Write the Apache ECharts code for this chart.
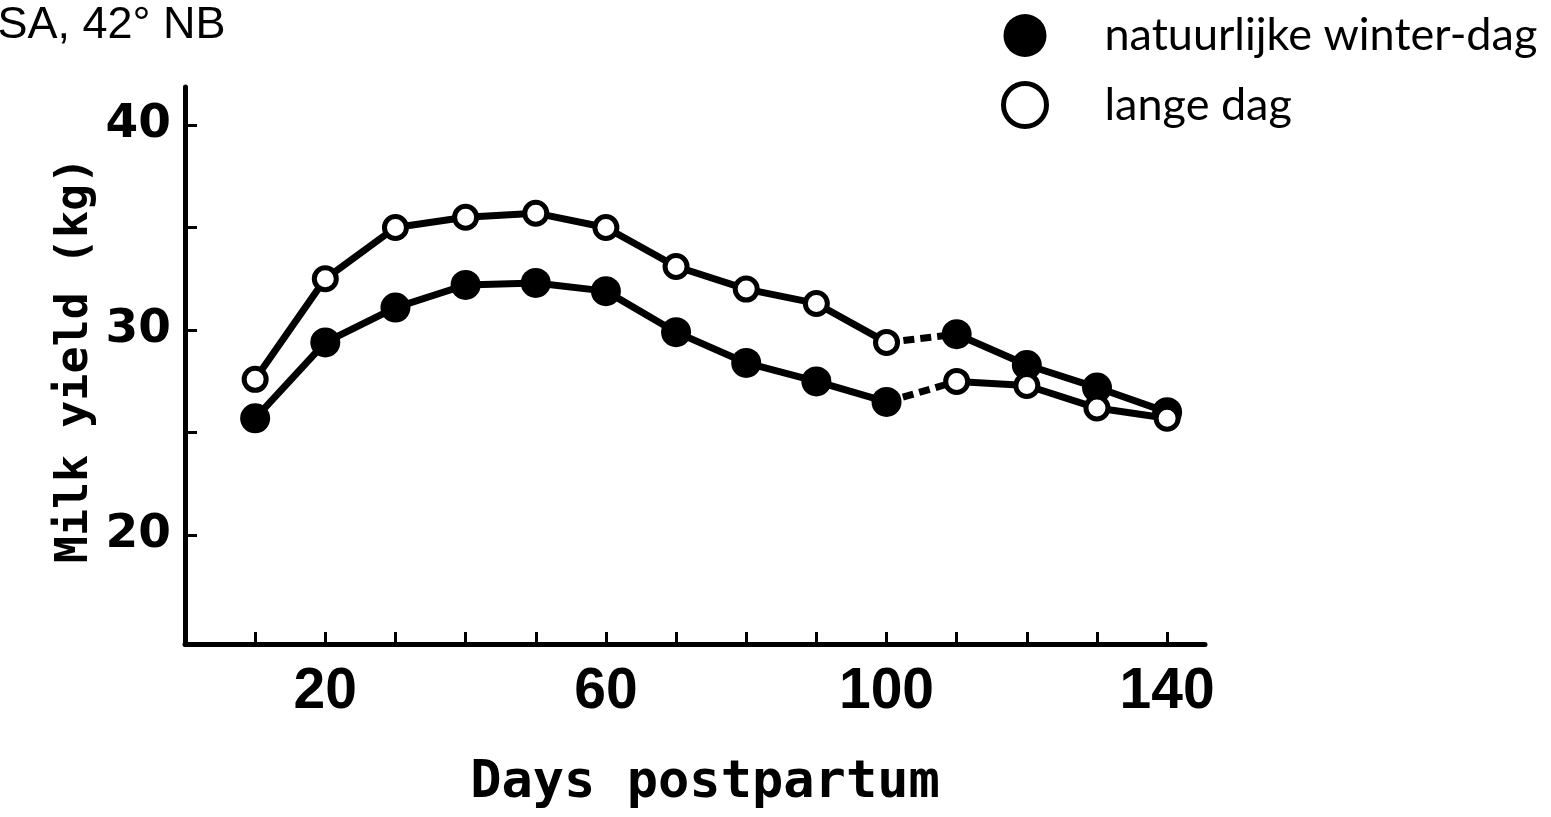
<!DOCTYPE html>
<html>
<head>
<meta charset="utf-8">
<script src="https://cdn.jsdelivr.net/npm/echarts@6/dist/echarts.min.js"></script>
<style>
  html, body { margin: 0; padding: 0; background: #fff; }
  #chart { width: 1551px; height: 817px; }
</style>
</head>
<body>
<div id="chart"></div>
<script>
// ---- data ----
const days = [10, 20, 30, 40, 50, 60, 70, 80, 90, 100, 110, 120, 130, 140];
// curve that starts as "lange dag" (open) and switches to natural winter day at day 110
const upperYield = [27.6, 32.5, 35.0, 35.5, 35.7, 35.0, 33.1, 32.0, 31.3, 29.4, 29.8, 28.3, 27.2, 26.0];
// curve that starts as natural winter day (filled) and switches to "lange dag" at day 110
const lowerYield = [25.7, 29.4, 31.1, 32.2, 32.3, 31.9, 29.9, 28.4, 27.5, 26.5, 27.5, 27.3, 26.2, 25.7];
const switchIndex = 10; // first point after treatment switch
const xTickValues = [10, 20, 30, 40, 50, 60, 70, 80, 90, 100, 110, 120, 130, 140];
const xLabelValues = [20, 60, 100, 140];
const yTickValues = [20, 25, 30, 35, 40];
const yLabelValues = [20, 30, 40];
const nameFilled = 'natuurlijke winter-dag';
const nameOpen = 'lange dag';
const cornerNote = 'USA, 42° NB';
const xTitle = 'Days postpartum';
const yTitle = 'Milk yield (kg)';

// ---- build series data ----
function pts(arr, from, to) {
  const out = [];
  for (let i = from; i <= to; i++) out.push([days[i], arr[i]]);
  return out;
}
function brokenLine(arr) {
  const a = pts(arr, 0, switchIndex - 1);
  a.push([null, null]);
  return a.concat(pts(arr, switchIndex, days.length - 1));
}
const last = days.length - 1;
const filledPts = pts(lowerYield, 0, switchIndex - 1).concat(pts(upperYield, switchIndex, last));
const openPts = pts(upperYield, 0, switchIndex - 1).concat(pts(lowerYield, switchIndex, last));

const LW = 7;
function solidLine(arr) {
  return { type: 'line', data: brokenLine(arr), symbol: 'none', connectNulls: false,
    lineStyle: { color: '#000', width: LW }, z: 2, silent: true };
}
function dashedLine(arr) {
  return { type: 'line', data: pts(arr, switchIndex - 1, switchIndex), symbol: 'none',
    lineStyle: { color: '#000', width: LW, type: [11, 6] }, z: 2, silent: true };
}

const chart = echarts.init(document.getElementById('chart'), null, { renderer: 'canvas' });
chart.setOption({
  animation: false,
  backgroundColor: '#fff',
  grid: { left: 185, top: 87, width: 1020, height: 557, containLabel: false },
  xAxis: {
    type: 'value', min: 0, max: 145.4,
    splitLine: { show: false },
    axisLine: { lineStyle: { color: '#000', width: 5 } },
    axisTick: { inside: true, length: 12, lineStyle: { color: '#000', width: 3 }, customValues: xTickValues },
    axisLabel: { customValues: xLabelValues, margin: 20, color: '#000',
      fontFamily: '"Liberation Sans", Arial, sans-serif', fontWeight: 'bold', fontSize: 57 }
  },
  yAxis: {
    type: 'value', min: 14.7, max: 41.85,
    splitLine: { show: false },
    axisLine: { onZero: false, lineStyle: { color: '#000', width: 5 } },
    axisTick: { inside: true, length: 12, lineStyle: { color: '#000', width: 3 }, customValues: yTickValues },
    axisLabel: { customValues: yLabelValues, margin: 14, color: '#000',
      fontFamily: '"DejaVu Sans", sans-serif', fontWeight: 'bold', fontSize: 47 }
  },
  legend: {
    orient: 'vertical', left: 996, top: 8, itemWidth: 43, itemHeight: 43, itemGap: 23,
    textStyle: { fontFamily: 'Lato, sans-serif', fontSize: 45, lineHeight: 43, color: '#000', padding: [0, 0, 0, 53] },
    data: [
      { name: nameFilled, icon: 'circle', itemStyle: { color: '#000', borderWidth: 0 } },
      { name: nameOpen, icon: 'circle', itemStyle: { color: '#fff', borderColor: '#000', borderWidth: 5 } }
    ]
  },
  graphic: [
    { type: 'text', left: -35, top: 3, style: { text: cornerNote, x: 0, y: 0,
      font: '45px "Liberation Sans", Arial, sans-serif', fill: '#000' } },
    { type: 'text', x: 705, y: 783, style: { text: xTitle, align: 'center', verticalAlign: 'middle',
      font: 'bold 52px "DejaVu Sans Mono", monospace', fill: '#000' } },
    { type: 'text', x: 75, y: 360, rotation: Math.PI / 2, style: { text: yTitle, align: 'center', verticalAlign: 'middle',
      font: 'bold 45px "DejaVu Sans Mono", monospace', fill: '#000' } }
  ],
  series: [
    solidLine(upperYield), dashedLine(upperYield),
    solidLine(lowerYield), dashedLine(lowerYield),
    { name: nameFilled, type: 'scatter', data: filledPts, symbol: 'circle', symbolSize: 30,
      itemStyle: { color: '#000', opacity: 1 }, z: 5 },
    { name: nameOpen, type: 'scatter', data: openPts, symbol: 'circle', symbolSize: 22,
      itemStyle: { color: '#fff', borderColor: '#000', borderWidth: 5, opacity: 1 }, z: 5 }
  ]
});
</script>
</body>
</html>
